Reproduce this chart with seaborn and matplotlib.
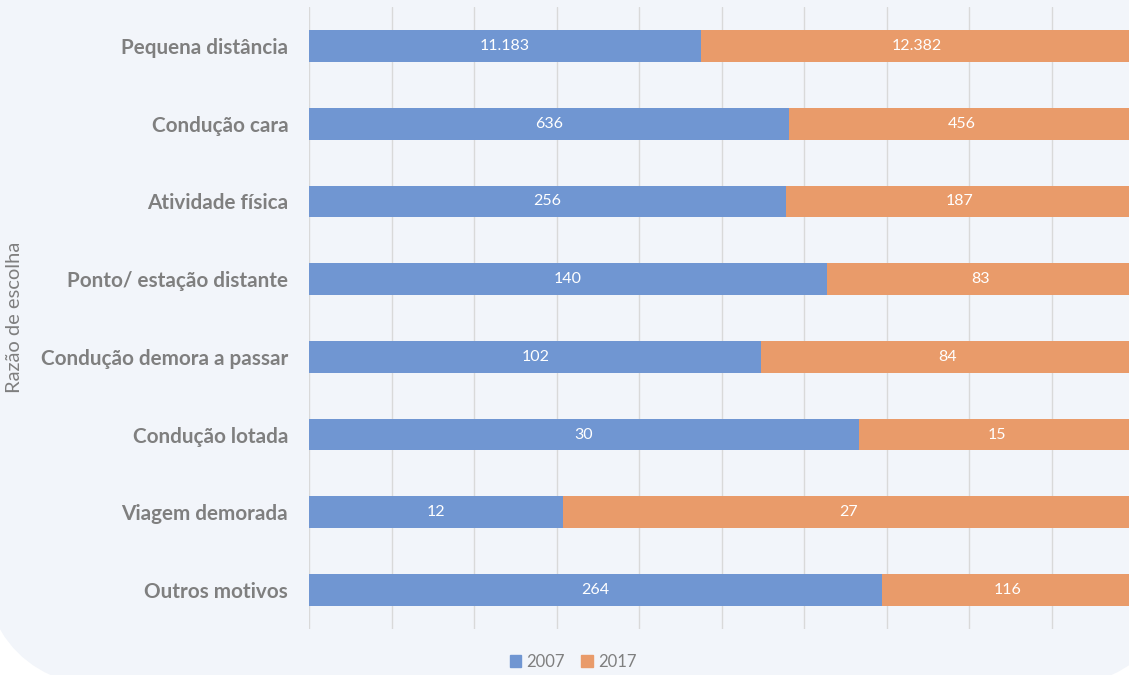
import pandas as pd
import seaborn as sns
import matplotlib.pyplot as plt
from matplotlib.patches import FancyBboxPatch, Patch

categorias = ['Pequena distância', 'Condução cara', 'Atividade física',
              'Ponto/ estação distante', 'Condução demora a passar',
              'Condução lotada', 'Viagem demorada', 'Outros motivos']
v2007 = [11183, 636, 256, 140, 102, 30, 12, 264]
v2017 = [12382, 456, 187, 83, 84, 15, 27, 116]

df = pd.DataFrame({'Razão': categorias, '2007': v2007, '2017': v2017})
df['total'] = df['2007'] + df['2017']
df['p2007'] = df['2007'] / df['total']
df['p100'] = 1.0

azul = '#7096D2'
laranja = '#E99B6A'
cinza = '#7F7F7F'
fundo = '#F2F5FA'

sns.set_theme(style='white')
plt.rcParams['font.family'] = ['Lato', 'DejaVu Sans']

fig = plt.figure(figsize=(11.29, 6.75), dpi=100)
fig.patch.set_facecolor('white')
# painel arredondado de fundo (coordenadas em pixels, origem embaixo)
painel = FancyBboxPatch((-20, -15), 1202, 1000, boxstyle='round,pad=0,rounding_size=150',
                        transform=None, facecolor=fundo, edgecolor='none', zorder=-10)
fig.patches.append(painel)

ax = fig.add_axes([309 / 1129, 1 - 628.75 / 675, 825 / 1129, 621.5 / 675])
ax.set_facecolor('none')
ax.set_zorder(1)

sns.barplot(data=df, y='Razão', x='p100', color=laranja, orient='h', width=0.41,
            saturation=1, linewidth=0, ax=ax, zorder=3)
sns.barplot(data=df, y='Razão', x='p2007', color=azul, orient='h', width=0.41,
            saturation=1, linewidth=0, ax=ax, zorder=4)

fmt = lambda v: f'{v:,}'.replace(',', '.')
for i, row in df.iterrows():
    ax.text(row['p2007'] / 2, i, fmt(row['2007']), ha='center', va='center',
            color='white', fontsize=11.5, zorder=5)
    ax.text(row['p2007'] + (1 - row['p2007']) / 2, i, fmt(row['2017']), ha='center',
            va='center', color='white', fontsize=11.5, zorder=5)

ax.set_xlim(0, 1)
ax.set_ylim(7.5, -0.5)
ax.set_xticks([i / 10 for i in range(11)])
ax.set_xticklabels([])
ax.xaxis.grid(True, color='#D9D9D9', linewidth=1)
ax.set_axisbelow(True)
for s in ax.spines.values():
    s.set_visible(False)
ax.tick_params(axis='both', length=0)
ax.set_xlabel('')
ax.set_ylabel('')
ax.set_yticks(range(len(categorias)))
ax.set_yticklabels(categorias, fontsize=14.9, fontweight='bold', color=cinza)
ax.tick_params(axis='y', pad=15)

fig.text(15 / 1129, 1 - 317 / 675, 'Razão de escolha', rotation=90, ha='center',
         va='center', fontsize=14.5, color=cinza)

fig.legend(handles=[Patch(color=azul, label='2007'), Patch(color=laranja, label='2017')],
           loc='center', bbox_to_anchor=(573 / 1129, 1 - 662 / 675), ncol=2, frameon=False,
           fontsize=12, labelcolor=cinza, handlelength=0.7, handleheight=0.7,
           handletextpad=0.3, columnspacing=1.0)

fig.savefig('out.png', dpi=100, facecolor='white')
